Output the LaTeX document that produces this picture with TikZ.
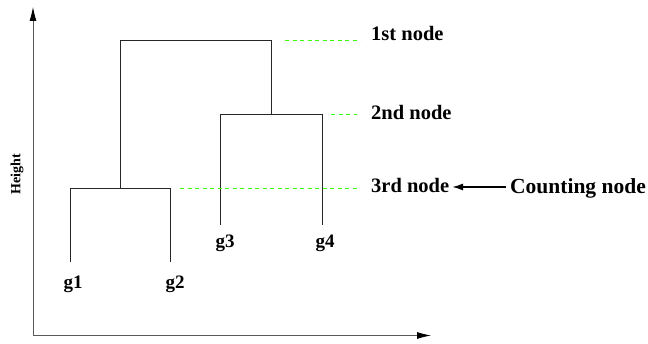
\documentclass[tikz,border=0pt]{standalone}
\usepackage{fontspec}
\setmainfont{Liberation Serif}
\usetikzlibrary{arrows.meta}
\begin{document}
\begin{tikzpicture}[x=1pt,y=-1pt,
  dline/.style={draw=black!85,line width=0.8pt},
  axis/.style={draw=black!65,line width=0.8pt,-{Latex[length=14pt,width=7pt,color=black]}},
  guide/.style={draw=green!70!lime,line width=0.7pt,dash pattern=on 4pt off 3.5pt},
  lbl/.style={font=\bfseries\fontsize{20.5}{22}\selectfont,inner sep=0pt},
  gl/.style={font=\bfseries\fontsize{19}{21}\selectfont,inner sep=0pt}]
\useasboundingbox (0,0) rectangle (648,344);
% axes
\coordinate (O) at (33,335.5);
\coordinate (Ytop) at (33,7);
\coordinate (Xend) at (431,335.5);
\draw[axis] (O) -- (Ytop);
\draw[axis] (O) -- (Xend);
\node[font=\bfseries\fontsize{14}{15}\selectfont,rotate=90,inner sep=0pt] (h) at (17,174) {Height};
% leaves
\coordinate (l1) at (70,262);
\coordinate (l2) at (170.5,262);
\coordinate (l3) at (220.5,225);
\coordinate (l4) at (322,225);
% joins
\coordinate (j3a) at (70,188);
\coordinate (j3b) at (170.5,188);
\coordinate (j2a) at (220.5,114);
\coordinate (j2b) at (322,114);
\coordinate (j1a) at (120,40.5);
\coordinate (j1b) at (271,40.5);
\coordinate (m3) at (120,188);
\coordinate (m2) at (271,114);
\draw[dline] (l1) -- (j3a) -- (j3b) -- (l2);
\draw[dline] (l3) -- (j2a) -- (j2b) -- (l4);
\draw[dline] (m3) -- (j1a) -- (j1b) -- (m2);
% leaf labels
\node[gl] (g1) at (73,284) {g1};
\node[gl] (g2) at (175,284) {g2};
\node[gl] (g3) at (225,243) {g3};
\node[gl] (g4) at (325,243) {g4};
% node labels
\node[lbl,anchor=base west] (n1) at (371,41) {1st node};
\node[lbl,anchor=base west] (n2) at (371,119.5) {2nd node};
\node[lbl,anchor=base west] (n3) at (371,193) {3rd node};
\node[font=\bfseries\fontsize{21.5}{24}\selectfont,inner sep=0pt,anchor=base west] (cn) at (510,194) {Counting node};
% guides
\coordinate (d1s) at (285,40.5); \coordinate (d1e) at (360,40.5);
\coordinate (d2s) at (331,114); \coordinate (d2e) at (357,114);
\coordinate (d3s) at (180,188); \coordinate (d3e) at (360,188);
\draw[guide] (d1s) -- (d1e);
\draw[guide] (d2s) -- (d2e);
\draw[guide] (d3s) -- (d3e);
% counting arrow
\draw[line width=1.6pt,-{Latex[length=11pt,width=7pt]}] (cn.west |- 0,187) ++(-4,0) coordinate (ca) -- (452,187) coordinate (cb);
\end{tikzpicture}
\end{document}
